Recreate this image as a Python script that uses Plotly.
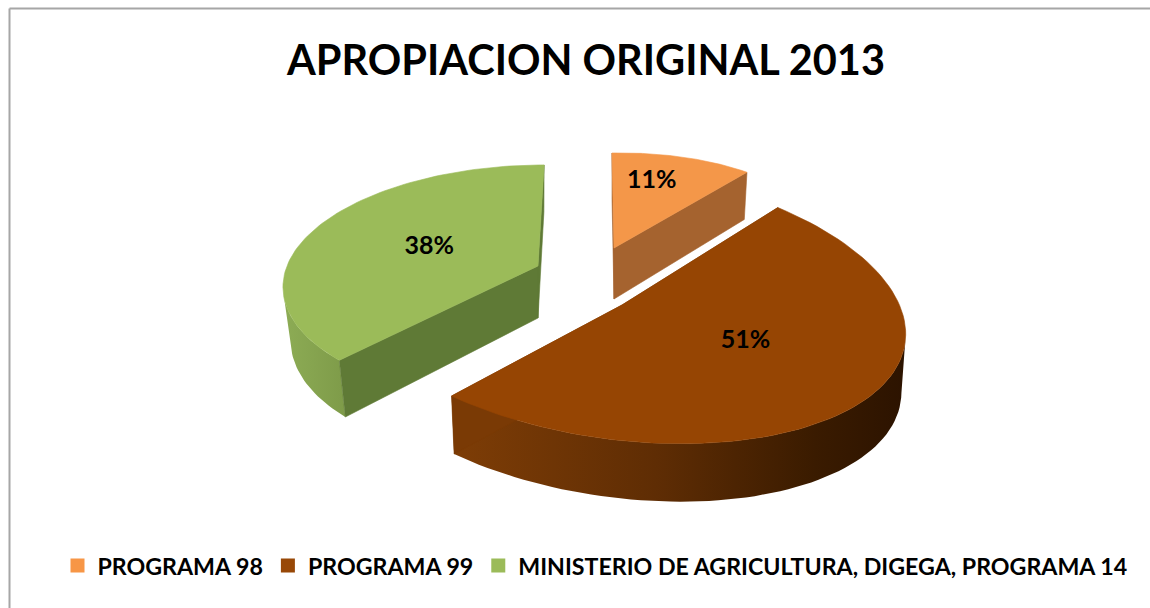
import math
import plotly.graph_objects as go

# ---- data ----
programas = ["PROGRAMA 98", "PROGRAMA 99", "MINISTERIO DE AGRICULTURA, DIGEGA, PROGRAMA 14"]
valores = [11, 51, 38]
titulo = "APROPIACION ORIGINAL 2013"

# ---- styles ----
top_colors = ["#F49749", "#964503", "#9BBB59"]
legend_colors = ["#F79646", "#984807", "#9BBB59"]
side_colors = ["#A5632F", "#7A3A05", "#5F7A36"]
wall_scales = [
    [[0, "#A5632F"], [1, "#A5632F"]],
    [[0, "#7E3D06"], [0.45, "#5F2D04"], [0.8, "#3A1B00"], [1, "#2C1300"]],
    [[0, "#8DAC55"], [1, "#7E9B49"]],
]
FONT = "Lato"

# projection of each exploded slice onto the picture
# ax, ay: apex; A, t, B, s: affine terms; kx, ky: perspective; d: depth; wx, wy: shrink of base
proj = [
    dict(ax=614, ay=248, A=211, t=-2, B=95, s=-4, kx=0, ky=0, d=51, wx=.98, wy=1.05),
    dict(ax=622, ay=305, A=282, t=-31, B=138, s=14, kx=0, ky=0, d=58, wx=.985, wy=1.0),
    dict(ax=538, ay=266, A=251, t=7, B=115.7, s=0, kx=.15, ky=.145, d=52, wx=.97, wy=1.05),
]
# where each label sits inside its slice: fraction of the sweep, fraction of the radius
label_place = [(.38, .715), (.43, .47), (.485, .476)]


def project(p, theta, r=1.0, base=False):
    X, Y = r * math.sin(theta), r * math.cos(theta)
    dx = (p["A"] * X + p["t"] * Y) / (1 + p["kx"] * Y)
    dy = -p["B"] * Y / (1 + p["ky"] * Y) + p["s"] * X
    if base:
        return p["ax"] + dx * p["wx"], p["ay"] + p["d"] + dy * p["wy"]
    return p["ax"] + dx, p["ay"] + dy


def poly(xs, ys, color=None, scale=None):
    kw = dict(x=xs + xs[:1], y=ys + ys[:1], mode="lines", fill="toself",
              hoverinfo="skip", showlegend=False)
    if scale:
        kw["fillgradient"] = dict(type="horizontal", colorscale=scale)
        kw["line"] = dict(width=0)
    else:
        kw["fillcolor"] = color
        kw["line"] = dict(color=color, width=0.6)
    return go.Scatter(**kw)


fig = go.Figure()
total = sum(valores)
angle = 0.0
slices = []
for v in valores:
    sweep = v / total * 2 * math.pi
    slices.append((angle, angle + sweep))
    angle += sweep

label_x, label_y, label_t = [], [], []
for i, (a0, a1) in enumerate(slices):
    p = proj[i]
    n = 90
    angs = [a0 + (a1 - a0) * j / n for j in range(n + 1)]
    upper = [project(p, t) for t in angs]
    # outer wall: only the front-facing stretch of the arc, where x falls as the angle grows
    front = [t for j, t in enumerate(angs[:-1]) if upper[j + 1][0] < upper[j][0]]
    if front and front[-1] == angs[-2]:
        front.append(angs[-1])
    if len(front) > 1:
        wall = [project(p, t) for t in front] + [project(p, t, base=True) for t in reversed(front)]
        fig.add_trace(poly([q[0] for q in wall], [q[1] for q in wall], scale=wall_scales[i]))
    # straight cut faces
    for t in (a0, a1):
        x1, y1 = project(p, t)
        x2, y2 = project(p, t, base=True)
        fig.add_trace(poly([p["ax"], x1, x2, p["ax"]], [p["ay"], y1, y2, p["ay"] + p["d"]], side_colors[i]))
    # top face
    fig.add_trace(poly([p["ax"]] + [q[0] for q in upper], [p["ay"]] + [q[1] for q in upper], top_colors[i]))
    # percentage label
    lx, ly = project(p, a0 + (a1 - a0) * label_place[i][0], r=label_place[i][1])
    label_x.append(lx)
    label_y.append(ly)
    label_t.append(f"{round(valores[i] / total * 100)}%")

fig.add_trace(go.Scatter(x=label_x, y=label_y, text=label_t, mode="text", hoverinfo="skip",
                         textposition="middle center", showlegend=False,
                         textfont=dict(family=FONT, size=25, color="#000000", weight="bold")))

for name, c in zip(programas, legend_colors):
    fig.add_trace(go.Scatter(x=[None], y=[None], mode="markers", name=name,
                             marker=dict(symbol="square", size=14, color=c)))

fig.update_layout(
    width=1150, height=608, margin=dict(l=0, r=0, t=0, b=0),
    paper_bgcolor="#FFFFFF", plot_bgcolor="#FFFFFF",
    xaxis=dict(range=[0, 1150], visible=False, fixedrange=True),
    yaxis=dict(range=[608, 0], visible=False, fixedrange=True),
    title=dict(text=titulo, x=586 / 1150, xanchor="center", y=1 - 60 / 608, yanchor="middle",
               font=dict(family=FONT, size=41.5, color="#000000", weight="bold")),
    legend=dict(orientation="h", x=57.5 / 1150, xanchor="left", y=1 - 566 / 608, yanchor="middle",
                font=dict(family=FONT, size=23.2, color="#000000", weight="bold"),
                bgcolor="rgba(0,0,0,0)", itemclick=False, itemdoubleclick=False),
    shapes=[
        dict(type="line", xref="paper", yref="paper", x0=9.5 / 1150, x1=1, y0=1 - 8.5 / 608, y1=1 - 8.5 / 608,
             line=dict(color="#A6A6A6", width=2)),
        dict(type="line", xref="paper", yref="paper", x0=9.5 / 1150, x1=9.5 / 1150, y0=0, y1=1 - 8.5 / 608,
             line=dict(color="#A6A6A6", width=2)),
    ],
)

fig.write_html("out.html", config={"displayModeBar": False},
               post_script="document.body.style.margin='0';")
